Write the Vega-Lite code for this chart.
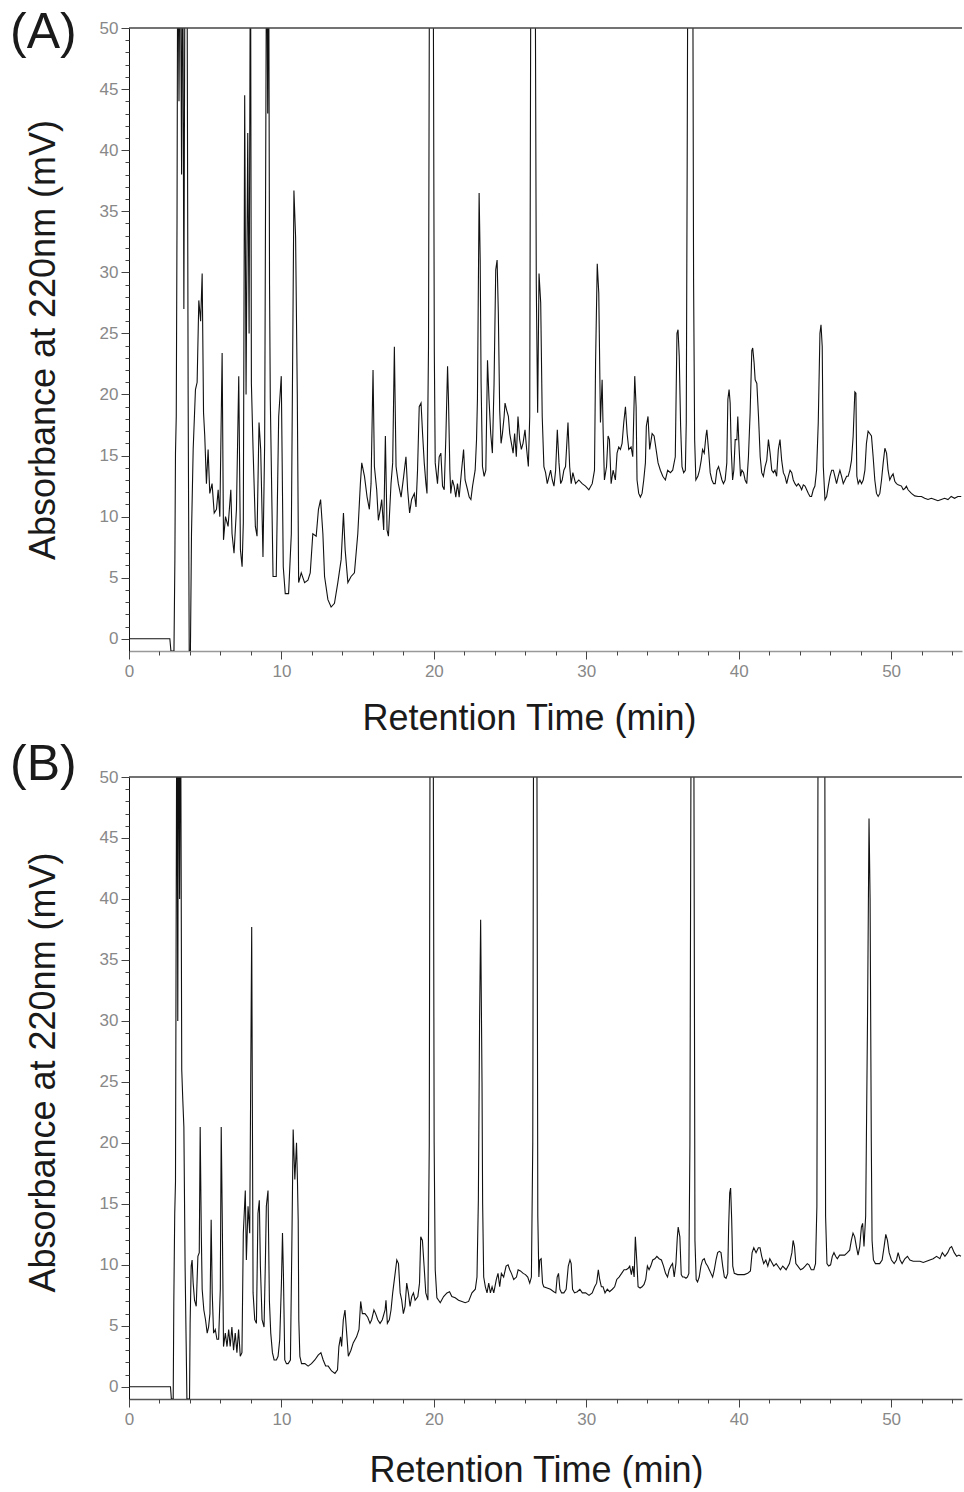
{
  "$schema": "https://vega.github.io/schema/vega-lite/v6.json",
  "padding": {"left": 10, "top": 8, "right": 2, "bottom": 0},
  "spacing": 4,
  "config": {
    "font": "Liberation Sans",
    "view": {"stroke": null},
    "axis": {"grid": false, "labelFont": "Liberation Sans", "titleFont": "Liberation Sans", "titleFontWeight": "normal", "titleColor": "#1a1a1a", "labelColor": "#888", "labelFontSize": 17, "titleFontSize": 36, "labelOverlap": false, "labelFlush": false, "tickColor": "#444"}
  },
  "datasets": {
    "A": [
      {"t":0,"v":0},{"t":2.68,"v":0},{"t":2.75,"v":-1},{"t":2.95,"v":-1},{"t":3.01,"v":6.5},{"t":3.05,"v":15.2},{"t":3.1,"v":18.2},{"t":3.15,"v":34},{"t":3.2,"v":60},{"t":3.28,"v":44},{"t":3.36,"v":60},{"t":3.45,"v":38},{"t":3.52,"v":60},{"t":3.6,"v":27},{"t":3.68,"v":60},{"t":3.8,"v":60},{"t":3.88,"v":20},{"t":3.95,"v":-1},{"t":4.03,"v":-1},{"t":4.1,"v":8.6},{"t":4.21,"v":15.5},{"t":4.36,"v":20.4},{"t":4.47,"v":21},{"t":4.58,"v":27.7},{"t":4.7,"v":26},{"t":4.8,"v":29.9},{"t":4.89,"v":18.5},{"t":4.97,"v":16.6},{"t":5.08,"v":12.7},{"t":5.19,"v":15.5},{"t":5.3,"v":11.9},{"t":5.45,"v":12.7},{"t":5.59,"v":10.3},{"t":5.74,"v":10.6},{"t":5.85,"v":12.2},{"t":5.96,"v":10},{"t":6.11,"v":23.4},{"t":6.2,"v":8.1},{"t":6.33,"v":10},{"t":6.5,"v":9.2},{"t":6.68,"v":12.2},{"t":6.76,"v":8.6},{"t":6.89,"v":7},{"t":7.05,"v":10.6},{"t":7.2,"v":21.5},{"t":7.31,"v":7.3},{"t":7.42,"v":5.9},{"t":7.5,"v":9.5},{"t":7.59,"v":44.5},{"t":7.68,"v":20},{"t":7.79,"v":41.4},{"t":7.88,"v":25},{"t":7.97,"v":60},{"t":8.03,"v":20.9},{"t":8.14,"v":15.5},{"t":8.29,"v":9.2},{"t":8.4,"v":8.4},{"t":8.53,"v":17.7},{"t":8.64,"v":15.5},{"t":8.79,"v":6.7},{"t":8.9,"v":16},{"t":9.03,"v":60},{"t":9.1,"v":43},{"t":9.16,"v":60},{"t":9.22,"v":29},{"t":9.27,"v":19.6},{"t":9.45,"v":5.1},{"t":9.66,"v":5.1},{"t":9.82,"v":18.2},{"t":9.99,"v":21.5},{"t":10.12,"v":5.9},{"t":10.25,"v":3.7},{"t":10.47,"v":3.7},{"t":10.65,"v":8.6},{"t":10.82,"v":36.7},{"t":10.93,"v":32.9},{"t":11.04,"v":20.1},{"t":11.13,"v":4.6},{"t":11.3,"v":5.4},{"t":11.52,"v":4.6},{"t":11.74,"v":4.8},{"t":11.89,"v":5.4},{"t":12.06,"v":8.6},{"t":12.28,"v":8.4},{"t":12.43,"v":10.6},{"t":12.57,"v":11.4},{"t":12.72,"v":8.6},{"t":12.83,"v":5.1},{"t":13.05,"v":3.2},{"t":13.26,"v":2.6},{"t":13.48,"v":2.9},{"t":13.7,"v":4.6},{"t":13.92,"v":6.5},{"t":14.07,"v":10.3},{"t":14.18,"v":7.3},{"t":14.36,"v":4.6},{"t":14.57,"v":5.1},{"t":14.79,"v":5.4},{"t":15.01,"v":8.6},{"t":15.18,"v":12.7},{"t":15.27,"v":14.4},{"t":15.45,"v":13.3},{"t":15.62,"v":11.6},{"t":15.77,"v":10.6},{"t":15.88,"v":12.7},{"t":16.01,"v":22},{"t":16.1,"v":14.1},{"t":16.25,"v":12.2},{"t":16.36,"v":9.7},{"t":16.49,"v":10.6},{"t":16.58,"v":11.4},{"t":16.71,"v":8.9},{"t":16.82,"v":16.6},{"t":16.93,"v":8.9},{"t":17.02,"v":8.4},{"t":17.19,"v":12.7},{"t":17.3,"v":14.4},{"t":17.41,"v":23.9},{"t":17.52,"v":14.1},{"t":17.67,"v":12.7},{"t":17.85,"v":11.6},{"t":18.02,"v":13.3},{"t":18.17,"v":14.9},{"t":18.28,"v":12.2},{"t":18.41,"v":10.3},{"t":18.54,"v":11.4},{"t":18.72,"v":11.9},{"t":18.83,"v":10.8},{"t":18.93,"v":13.8},{"t":19.04,"v":19},{"t":19.16,"v":19.3},{"t":19.26,"v":16.8},
      {"t":19.37,"v":14.4},{"t":19.48,"v":12.7},{"t":19.55,"v":11.9},{"t":19.65,"v":23.9},{"t":19.72,"v":60},{"t":19.95,"v":60},{"t":20.03,"v":23.6},{"t":20.09,"v":14.4},{"t":20.24,"v":12.7},{"t":20.35,"v":14.9},{"t":20.46,"v":15.2},{"t":20.57,"v":12.5},{"t":20.68,"v":12.2},{"t":20.79,"v":16.6},{"t":20.9,"v":22.3},{"t":20.96,"v":19.6},{"t":21.05,"v":13.8},{"t":21.11,"v":11.9},{"t":21.22,"v":13},{"t":21.33,"v":12.5},{"t":21.44,"v":11.6},{"t":21.55,"v":12.7},{"t":21.66,"v":11.6},{"t":21.82,"v":13.8},{"t":21.95,"v":15.5},{"t":22.05,"v":13},{"t":22.21,"v":12.2},{"t":22.32,"v":11.6},{"t":22.43,"v":11.4},{"t":22.54,"v":12.5},{"t":22.71,"v":13.8},{"t":22.8,"v":16.3},{"t":22.86,"v":19.6},{"t":22.97,"v":36.5},{"t":23.04,"v":31},{"t":23.1,"v":20.9},{"t":23.19,"v":14.1},{"t":23.3,"v":13.3},{"t":23.41,"v":13.8},{"t":23.52,"v":22.8},{"t":23.62,"v":19.6},{"t":23.73,"v":16.8},{"t":23.84,"v":15.2},{"t":23.95,"v":20.9},{"t":24.06,"v":30.2},{"t":24.15,"v":31},{"t":24.23,"v":26.7},{"t":24.32,"v":18.7},{"t":24.41,"v":16},{"t":24.5,"v":16.8},{"t":24.61,"v":18.2},{"t":24.67,"v":19.3},{"t":24.78,"v":18.7},{"t":24.89,"v":18.2},{"t":24.98,"v":16.8},{"t":25.09,"v":16},{"t":25.2,"v":15.2},{"t":25.3,"v":16.8},{"t":25.41,"v":14.9},{"t":25.52,"v":18.2},{"t":25.63,"v":16.3},{"t":25.74,"v":15.5},{"t":25.85,"v":16},{"t":25.98,"v":17.1},{"t":26.09,"v":15.5},{"t":26.2,"v":14.1},{"t":26.29,"v":18.2},{"t":26.37,"v":60},{"t":26.64,"v":60},{"t":26.72,"v":29.1},{"t":26.81,"v":18.5},{"t":26.9,"v":29.9},{"t":27.01,"v":27.5},{"t":27.11,"v":18.2},{"t":27.22,"v":14.1},{"t":27.33,"v":13.6},{"t":27.44,"v":12.7},{"t":27.66,"v":13.8},{"t":27.77,"v":13},{"t":27.88,"v":12.5},{"t":27.99,"v":13.8},{"t":28.1,"v":17.1},{"t":28.21,"v":14.4},{"t":28.32,"v":12.7},{"t":28.42,"v":13},{"t":28.53,"v":13.8},{"t":28.64,"v":14.1},{"t":28.8,"v":17.7},{"t":28.91,"v":14.1},{"t":29.01,"v":12.7},{"t":29.12,"v":13.6},{"t":29.3,"v":12.7},{"t":29.51,"v":13},{"t":29.73,"v":12.7},{"t":29.95,"v":12.5},{"t":30.17,"v":12.2},{"t":30.39,"v":12.7},{"t":30.54,"v":13.8},{"t":30.61,"v":22.6},{"t":30.72,"v":30.7},{"t":30.82,"v":28.3},{"t":30.93,"v":17.7},{"t":31.04,"v":21.2},{"t":31.11,"v":16.8},{"t":31.19,"v":13},{"t":31.33,"v":14.1},{"t":31.43,"v":16.6},{"t":31.52,"v":16.3},{"t":31.63,"v":12.7},{"t":31.76,"v":13.8},{"t":31.91,"v":13},{"t":32.02,"v":15.2},{"t":32.13,"v":15.7},{"t":32.24,"v":15.5},{"t":32.35,"v":16},{"t":32.46,"v":17.7},{"t":32.57,"v":19},{"t":32.68,"v":16.8},{"t":32.79,"v":15.5},{"t":32.94,"v":15.7},{"t":33.05,"v":14.9},{"t":33.18,"v":21.5},{"t":33.27,"v":19},{"t":33.33,"v":13},{"t":33.44,"v":11.9},{"t":33.55,"v":11.6},{"t":33.66,"v":11.9},{"t":33.77,"v":13},{"t":33.88,"v":14.4},{"t":33.94,"v":17.4},{"t":34.05,"v":18.2},{"t":34.16,"v":15.5},{"t":34.32,"v":16.8},{"t":34.45,"v":16.6},{"t":34.58,"v":15.5},{"t":34.71,"v":14.4},{"t":34.86,"v":13.8},{"t":35.02,"v":13.3},{"t":35.19,"v":13},{"t":35.34,"v":13.8},{"t":35.52,"v":13.6},{"t":35.67,"v":13.8},{"t":35.84,"v":14.9},{"t":35.95,"v":25},{"t":36.02,"v":25.3},{"t":36.1,"v":23.1},{"t":36.19,"v":17.4},{"t":36.28,"v":14.1},{"t":36.39,"v":13.6},{"t":36.5,"v":13.8},{"t":36.56,"v":17.7},{"t":36.62,"v":38.9},{"t":36.67,"v":60},{"t":36.98,"v":60},{"t":37.04,"v":29.4},{"t":37.11,"v":16.3},
      {"t":37.19,"v":13},{"t":37.32,"v":13.3},{"t":37.43,"v":13.8},{"t":37.54,"v":14.6},{"t":37.63,"v":15.5},{"t":37.74,"v":15.2},{"t":37.85,"v":16.6},{"t":37.91,"v":17.1},{"t":38.02,"v":15.5},{"t":38.13,"v":13.6},{"t":38.24,"v":13},{"t":38.35,"v":12.7},{"t":38.46,"v":12.7},{"t":38.57,"v":13.8},{"t":38.68,"v":14.1},{"t":38.78,"v":13.6},{"t":38.9,"v":13},{"t":39,"v":12.7},{"t":39.11,"v":13},{"t":39.22,"v":14.4},{"t":39.29,"v":19.6},{"t":39.37,"v":20.4},{"t":39.44,"v":19.3},{"t":39.51,"v":15.5},{"t":39.6,"v":13},{"t":39.68,"v":13.8},{"t":39.77,"v":16.3},{"t":39.88,"v":16.3},{"t":39.94,"v":18.2},{"t":40.03,"v":15.5},{"t":40.12,"v":13.3},{"t":40.21,"v":13.8},{"t":40.32,"v":13.6},{"t":40.42,"v":13},{"t":40.53,"v":12.7},{"t":40.64,"v":14.9},{"t":40.75,"v":18.5},{"t":40.86,"v":23.6},{"t":40.92,"v":23.8},{"t":41.01,"v":22.6},{"t":41.08,"v":21.2},{"t":41.19,"v":20.9},{"t":41.3,"v":18.2},{"t":41.41,"v":14.9},{"t":41.51,"v":13.6},{"t":41.62,"v":13.3},{"t":41.73,"v":14.1},{"t":41.84,"v":14.6},{"t":41.95,"v":16.3},{"t":42.06,"v":15.2},{"t":42.17,"v":13.8},{"t":42.28,"v":13.6},{"t":42.38,"v":13.8},{"t":42.49,"v":13.3},{"t":42.6,"v":15.5},{"t":42.71,"v":16.3},{"t":42.82,"v":14.6},{"t":42.93,"v":13.6},{"t":43.04,"v":13.3},{"t":43.15,"v":12.7},{"t":43.26,"v":13.3},{"t":43.37,"v":13.8},{"t":43.48,"v":13.6},{"t":43.58,"v":13},{"t":43.69,"v":12.7},{"t":43.8,"v":12.5},{"t":43.91,"v":12.7},{"t":44.02,"v":12.5},{"t":44.13,"v":12.2},{"t":44.24,"v":12.6},{"t":44.35,"v":12.5},{"t":44.46,"v":12.2},{"t":44.57,"v":11.9},{"t":44.68,"v":11.65},{"t":44.78,"v":11.65},{"t":44.89,"v":12.2},{"t":45,"v":12.5},{"t":45.11,"v":13.8},{"t":45.22,"v":17.7},{"t":45.33,"v":25},{"t":45.4,"v":25.7},{"t":45.48,"v":23.9},{"t":45.55,"v":14.1},{"t":45.66,"v":11.4},{"t":45.77,"v":11.65},{"t":45.88,"v":12.5},{"t":45.99,"v":13.3},{"t":46.1,"v":13.8},{"t":46.21,"v":13.8},{"t":46.31,"v":13.3},{"t":46.42,"v":12.7},{"t":46.53,"v":13.3},{"t":46.64,"v":13.8},{"t":46.75,"v":13.3},{"t":46.86,"v":12.7},{"t":46.97,"v":13},{"t":47.08,"v":13.3},{"t":47.18,"v":13.3},{"t":47.29,"v":13.8},{"t":47.4,"v":14.6},{"t":47.51,"v":16.6},{"t":47.62,"v":20.2},{"t":47.69,"v":20.1},{"t":47.75,"v":13.3},{"t":47.84,"v":12.7},{"t":47.95,"v":13},{"t":48.06,"v":12.7},{"t":48.17,"v":13},{"t":48.28,"v":13.8},{"t":48.38,"v":16},{"t":48.49,"v":17},{"t":48.6,"v":16.8},{"t":48.71,"v":16.6},{"t":48.82,"v":14.9},{"t":48.93,"v":13},{"t":49.04,"v":11.9},{"t":49.15,"v":11.65},{"t":49.26,"v":11.9},{"t":49.37,"v":13},{"t":49.48,"v":14.4},{"t":49.59,"v":15.6},{"t":49.7,"v":15.2},{"t":49.8,"v":13.8},{"t":49.91,"v":13},{"t":50.02,"v":13.3},{"t":50.13,"v":13.5},{"t":50.24,"v":12.9},{"t":50.35,"v":12.7},{"t":50.46,"v":12.6},{"t":50.68,"v":12.5},{"t":50.79,"v":12.2},{"t":50.9,"v":12.3},{"t":51,"v":12.5},{"t":51.11,"v":12.2},{"t":51.33,"v":11.9},{"t":51.55,"v":11.7},{"t":51.77,"v":11.65},{"t":51.99,"v":11.65},{"t":52.2,"v":11.5},{"t":52.42,"v":11.4},{"t":52.64,"v":11.5},{"t":52.86,"v":11.4},{"t":53.07,"v":11.3},{"t":53.29,"v":11.4},{"t":53.51,"v":11.5},{"t":53.73,"v":11.4},{"t":53.94,"v":11.65},{"t":54.16,"v":11.5},{"t":54.38,"v":11.65},{"t":54.6,"v":11.65}
    ],
    "B": [
      {"t":0,"v":0},{"t":2.72,"v":0},{"t":2.78,"v":-1},{"t":2.9,"v":-1},{"t":2.94,"v":6.9},{"t":3,"v":14.2},{"t":3.05,"v":16.8},{"t":3.14,"v":60},{"t":3.2,"v":30},{"t":3.25,"v":60},{"t":3.32,"v":40},{"t":3.38,"v":60},{"t":3.46,"v":26},{"t":3.53,"v":23.5},{"t":3.6,"v":21.3},{"t":3.68,"v":9.9},{"t":3.75,"v":3.6},{"t":3.8,"v":-1},{"t":3.97,"v":-1},{"t":4.01,"v":5.2},{"t":4.08,"v":9.9},{"t":4.14,"v":10.4},{"t":4.21,"v":8.5},{"t":4.3,"v":7.1},{"t":4.41,"v":6.6},{"t":4.52,"v":10.7},{"t":4.61,"v":11},{"t":4.67,"v":21.3},{"t":4.74,"v":12.9},{"t":4.8,"v":8},{"t":4.91,"v":6.3},{"t":5.02,"v":5.5},{"t":5.13,"v":4.4},{"t":5.22,"v":4.9},{"t":5.31,"v":6},{"t":5.39,"v":13.7},{"t":5.46,"v":7.7},{"t":5.55,"v":4.4},{"t":5.66,"v":4.7},{"t":5.77,"v":3.9},{"t":5.88,"v":3.9},{"t":5.99,"v":8},{"t":6.05,"v":21.3},{"t":6.12,"v":13.7},{"t":6.2,"v":3.3},{"t":6.32,"v":4.4},{"t":6.43,"v":3.3},{"t":6.54,"v":4.7},{"t":6.64,"v":3.3},{"t":6.75,"v":4.9},{"t":6.86,"v":3},{"t":6.97,"v":4.4},{"t":7.08,"v":2.8},{"t":7.19,"v":4.7},{"t":7.3,"v":2.5},{"t":7.41,"v":2.8},{"t":7.5,"v":12.6},{"t":7.63,"v":16.1},{"t":7.7,"v":10.4},{"t":7.81,"v":14.8},{"t":7.92,"v":12.6},{"t":8.05,"v":37.7},{"t":8.14,"v":7.7},{"t":8.25,"v":5.5},{"t":8.36,"v":5.2},{"t":8.46,"v":14.2},{"t":8.55,"v":15.3},{"t":8.62,"v":9.9},{"t":8.73,"v":5.5},{"t":8.86,"v":4.9},{"t":8.95,"v":10.4},{"t":9.01,"v":14.8},{"t":9.12,"v":16.1},{"t":9.21,"v":7.1},{"t":9.3,"v":4.4},{"t":9.41,"v":2.8},{"t":9.52,"v":2.2},{"t":9.67,"v":2.2},{"t":9.78,"v":2.5},{"t":9.89,"v":3.9},{"t":10,"v":8.5},{"t":10.07,"v":12.6},{"t":10.13,"v":9.3},{"t":10.22,"v":2.2},{"t":10.33,"v":1.9},{"t":10.44,"v":1.9},{"t":10.59,"v":2.2},{"t":10.68,"v":11.2},{"t":10.77,"v":21.1},{"t":10.88,"v":17},{"t":10.99,"v":20},{"t":11.05,"v":17},{"t":11.1,"v":13.7},{"t":11.14,"v":5.5},{"t":11.21,"v":2.5},{"t":11.32,"v":1.9},{"t":11.54,"v":1.9},{"t":11.75,"v":1.7},{"t":11.97,"v":1.9},{"t":12.19,"v":2.2},{"t":12.41,"v":2.6},{"t":12.59,"v":2.8},{"t":12.74,"v":2.2},{"t":12.9,"v":1.7},{"t":13.07,"v":1.7},{"t":13.29,"v":1.3},{"t":13.51,"v":1.1},{"t":13.68,"v":1.4},{"t":13.77,"v":3.3},{"t":13.88,"v":4.1},{"t":13.95,"v":3.3},{"t":14.06,"v":5.5},{"t":14.17,"v":6.3},{"t":14.28,"v":4.4},{"t":14.39,"v":2.5},{"t":14.56,"v":3},{"t":14.71,"v":3.6},{"t":14.93,"v":4.1},{"t":15.09,"v":4.7},{"t":15.2,"v":7},{"t":15.31,"v":6},{"t":15.48,"v":6},{"t":15.66,"v":5.7},{"t":15.81,"v":5.2},{"t":15.92,"v":5.5},{"t":16.07,"v":6.3},{"t":16.18,"v":6},{"t":16.32,"v":5.5},{"t":16.47,"v":5.2},{"t":16.62,"v":5.5},{"t":16.8,"v":6.3},{"t":16.86,"v":7.1},{"t":16.95,"v":5.2},{"t":17.08,"v":5.5},{"t":17.19,"v":6.3},{"t":17.3,"v":7.7},{"t":17.46,"v":9.3},{"t":17.57,"v":10.4},{"t":17.68,"v":10.1},{"t":17.79,"v":7.7},{"t":17.89,"v":7.1},{"t":18,"v":6},{"t":18.11,"v":6.6},{"t":18.22,"v":8.5},{"t":18.33,"v":7.7},{"t":18.44,"v":6.6},{"t":18.55,"v":7.4},{"t":18.66,"v":7.7},{"t":18.77,"v":7.1},{"t":18.95,"v":7.4},{"t":19.06,"v":8.5},{"t":19.14,"v":12.3},{"t":19.25,"v":12},{"t":19.36,"v":9.9},{"t":19.47,"v":7.7},{"t":19.61,"v":7.1},{"t":19.7,"v":20},{"t":19.76,"v":60},{"t":19.95,"v":60},{"t":20.02,"v":20},{"t":20.09,"v":9.6},
      {"t":20.2,"v":7.3},{"t":20.31,"v":7.1},{"t":20.42,"v":6.9},{"t":20.64,"v":7.4},{"t":20.86,"v":7.7},{"t":21.03,"v":7.8},{"t":21.18,"v":7.4},{"t":21.4,"v":7.3},{"t":21.62,"v":7.1},{"t":21.84,"v":7},{"t":22.06,"v":6.9},{"t":22.28,"v":7},{"t":22.5,"v":7.7},{"t":22.72,"v":8},{"t":22.83,"v":9},{"t":22.92,"v":15.3},{"t":23,"v":30},{"t":23.07,"v":38.3},{"t":23.16,"v":25},{"t":23.2,"v":15.1},{"t":23.27,"v":9},{"t":23.38,"v":8.2},{"t":23.49,"v":7.7},{"t":23.6,"v":8.5},{"t":23.71,"v":7.7},{"t":23.82,"v":8.2},{"t":23.93,"v":7.7},{"t":24.1,"v":8.8},{"t":24.21,"v":9.3},{"t":24.32,"v":8.2},{"t":24.43,"v":9.3},{"t":24.58,"v":9},{"t":24.74,"v":9.9},{"t":24.87,"v":10},{"t":24.98,"v":9.6},{"t":25.09,"v":9.3},{"t":25.24,"v":8.8},{"t":25.42,"v":9},{"t":25.53,"v":9.6},{"t":25.68,"v":9.5},{"t":25.86,"v":9.3},{"t":26.01,"v":9.2},{"t":26.16,"v":9},{"t":26.29,"v":8.5},{"t":26.4,"v":9},{"t":26.49,"v":20},{"t":26.55,"v":60},{"t":26.75,"v":60},{"t":26.82,"v":14},{"t":26.89,"v":9},{"t":26.95,"v":10.4},{"t":27.04,"v":10.5},{"t":27.13,"v":8.5},{"t":27.21,"v":8.2},{"t":27.43,"v":8.1},{"t":27.65,"v":8},{"t":27.87,"v":7.8},{"t":28,"v":7.7},{"t":28.09,"v":9},{"t":28.18,"v":9.3},{"t":28.27,"v":8},{"t":28.38,"v":7.7},{"t":28.53,"v":7.7},{"t":28.68,"v":8},{"t":28.82,"v":9.9},{"t":28.93,"v":10.4},{"t":29.01,"v":10.1},{"t":29.1,"v":8},{"t":29.23,"v":7.7},{"t":29.41,"v":7.8},{"t":29.58,"v":8},{"t":29.74,"v":7.7},{"t":29.96,"v":7.7},{"t":30.18,"v":7.5},{"t":30.39,"v":7.7},{"t":30.55,"v":8.2},{"t":30.68,"v":8.5},{"t":30.79,"v":9.6},{"t":30.88,"v":8.8},{"t":30.99,"v":8.2},{"t":31.1,"v":8.2},{"t":31.23,"v":7.7},{"t":31.38,"v":8},{"t":31.53,"v":7.8},{"t":31.71,"v":8},{"t":31.86,"v":8.2},{"t":32,"v":8.8},{"t":32.15,"v":9},{"t":32.32,"v":9.3},{"t":32.48,"v":9.6},{"t":32.61,"v":9.6},{"t":32.74,"v":9.7},{"t":32.85,"v":9.9},{"t":32.96,"v":9.2},{"t":33.05,"v":9.9},{"t":33.14,"v":9},{"t":33.22,"v":12.3},{"t":33.31,"v":10.4},{"t":33.4,"v":8.2},{"t":33.53,"v":8.1},{"t":33.66,"v":8.2},{"t":33.79,"v":8.4},{"t":33.9,"v":8.8},{"t":34.01,"v":9.9},{"t":34.12,"v":9.6},{"t":34.23,"v":9.9},{"t":34.36,"v":10.4},{"t":34.5,"v":10.5},{"t":34.63,"v":10.7},{"t":34.78,"v":10.5},{"t":34.93,"v":10.4},{"t":35.07,"v":9.9},{"t":35.2,"v":9.3},{"t":35.33,"v":9},{"t":35.44,"v":9.6},{"t":35.55,"v":9.9},{"t":35.66,"v":10.1},{"t":35.77,"v":9},{"t":35.88,"v":10.1},{"t":35.97,"v":12.2},{"t":36.03,"v":13.1},{"t":36.14,"v":12.3},{"t":36.23,"v":9.2},{"t":36.32,"v":9},{"t":36.43,"v":9},{"t":36.54,"v":8.9},{"t":36.64,"v":9},{"t":36.73,"v":9.3},{"t":36.8,"v":20},{"t":36.87,"v":52},{"t":37.06,"v":52},{"t":37.13,"v":12},{"t":37.21,"v":8.8},{"t":37.3,"v":8.6},{"t":37.41,"v":9},{"t":37.52,"v":9.9},{"t":37.63,"v":10.4},{"t":37.74,"v":10.5},{"t":37.85,"v":10.1},{"t":37.96,"v":9.9},{"t":38.07,"v":9.6},{"t":38.18,"v":9.3},{"t":38.29,"v":9},{"t":38.4,"v":9.6},{"t":38.51,"v":10.4},{"t":38.62,"v":11},{"t":38.73,"v":11.1},{"t":38.84,"v":11},{"t":38.95,"v":9.9},{"t":39.06,"v":9},{"t":39.17,"v":8.9},{"t":39.28,"v":9.3},{"t":39.34,"v":13.1},{"t":39.41,"v":15.9},{"t":39.47,"v":16.3},{"t":39.54,"v":13.7},{"t":39.61,"v":9.9},{"t":39.71,"v":9.3},{"t":39.93,"v":9.2},{"t":40.15,"v":9.2},{"t":40.37,"v":9.2},{"t":40.59,"v":9.3},{"t":40.77,"v":9.5},{"t":40.88,"v":11},{"t":40.99,"v":11.4},{"t":41.14,"v":11},{"t":41.29,"v":11.4},{"t":41.4,"v":11.4},{"t":41.51,"v":10.7},{"t":41.64,"v":10.1},{"t":41.78,"v":10.4},{"t":41.91,"v":9.9},{"t":42.04,"v":10.5},{"t":42.13,"v":10.3},{"t":42.3,"v":9.9},{"t":42.46,"v":10.1},{"t":42.57,"v":9.9},{"t":42.74,"v":9.6},{"t":42.89,"v":9.9},{"t":43.11,"v":9.6},{"t":43.33,"v":10.1},{"t":43.49,"v":11},{"t":43.57,"v":12},{"t":43.66,"v":11.5},{"t":43.75,"v":10.1},{"t":43.88,"v":9.9},{"t":44.06,"v":9.6},{"t":44.21,"v":9.7},{"t":44.36,"v":9.9},{"t":44.5,"v":10.1},{"t":44.61,"v":10},{"t":44.76,"v":9.6},{"t":44.93,"v":9.6},{"t":45.04,"v":10.1},{"t":45.13,"v":14.8},{"t":45.22,"v":60},{"t":45.64,"v":60},{"t":45.7,"v":14},{"t":45.79,"v":10.1},{"t":45.9,"v":9.9},{"t":46.03,"v":10},{"t":46.14,"v":10.7},{"t":46.25,"v":11},{"t":46.36,"v":10.7},{"t":46.47,"v":10.5},{"t":46.62,"v":10.8},{"t":46.78,"v":10.8},{"t":46.95,"v":10.8},{"t":47.13,"v":11},{"t":47.28,"v":11.2},{"t":47.39,"v":12},{"t":47.5,"v":12.6},{"t":47.61,"v":12.3},{"t":47.72,"v":11.5},{"t":47.83,"v":10.8},{"t":47.94,"v":11.5},{"t":48.05,"v":13.1},{"t":48.13,"v":13.4},{"t":48.22,"v":11.5},{"t":48.33,"v":14},{"t":48.45,"v":30},{"t":48.55,"v":46.6},{"t":48.62,"v":40},{"t":48.7,"v":20},{"t":48.75,"v":12},{"t":48.84,"v":10.4},{"t":48.97,"v":10.1},{"t":49.1,"v":10.1},{"t":49.25,"v":10.1},{"t":49.41,"v":10.4},{"t":49.54,"v":11.5},{"t":49.65,"v":12.5},{"t":49.76,"v":12},{"t":49.87,"v":11},{"t":50.02,"v":10.4},{"t":50.2,"v":10.1},{"t":50.35,"v":10.4},{"t":50.46,"v":11},{"t":50.59,"v":10.4},{"t":50.72,"v":10.1},{"t":50.9,"v":10.5},{"t":51.07,"v":10.7},{"t":51.23,"v":10.4},{"t":51.45,"v":10.3},{"t":51.67,"v":10.3},{"t":51.89,"v":10.3},{"t":52.11,"v":10.2},{"t":52.32,"v":10.3},{"t":52.54,"v":10.4},{"t":52.76,"v":10.5},{"t":52.98,"v":10.7},{"t":53.2,"v":10.5},{"t":53.36,"v":11},{"t":53.53,"v":10.7},{"t":53.71,"v":11},{"t":53.86,"v":11.4},{"t":53.97,"v":11.5},{"t":54.14,"v":11},{"t":54.3,"v":10.7},{"t":54.45,"v":10.8},{"t":54.58,"v":10.7}
    ]
  },
  "vconcat": [
    {
      "width": 833,
      "height": 623,
      "title": {"text": "(A)", "anchor": "start", "frame": "bounds", "fontSize": 50, "fontWeight": "normal", "font": "Liberation Sans", "color": "#1a1a1a", "dx": -15, "dy": 39, "offset": 0},
      "resolve": {"axis": {"x": "independent", "y": "independent"}},
      "layer": [
        {
          "data": {"name": "A"},
          "mark": {"type": "line", "clip": true, "color": "#111", "strokeWidth": 1.1},
          "encoding": {
            "x": {"field": "t", "type": "quantitative", "title": "Retention Time (min)", "scale": {"domain": [0, 54.65], "nice": false, "zero": false},
              "axis": {"orient": "bottom", "values": [0,10,20,30,40,50], "domainColor": "#999", "domainWidth": 1.5, "tickSize": 8, "labelPadding": 4, "titlePadding": 22, "titleX": 400}},
            "y": {"field": "v", "type": "quantitative", "title": "Absorbance at 220nm (mV)", "scale": {"domain": [-1, 50], "nice": false, "zero": false},
              "axis": {"orient": "left", "values": [0,5,10,15,20,25,30,35,40,45,50], "domainColor": "#111", "tickSize": 8, "labelPadding": 3, "titlePadding": 37}}
          }
        },
        {
          "data": {"values": [{}]},
          "mark": {"type": "rule", "color": "#444", "strokeWidth": 1.3},
          "encoding": {
            "x": {"datum": 0, "type": "quantitative", "scale": {"domain": [0, 54.65], "nice": false, "zero": false},
              "axis": {"orient": "bottom", "values": [0,2,4,6,8,10,12,14,16,18,20,22,24,26,28,30,32,34,36,38,40,42,44,46,48,50,52,54], "labels": false, "domain": false, "tickSize": 4, "title": null}},
            "x2": {"datum": 54.65},
            "y": {"datum": 50, "type": "quantitative", "scale": {"domain": [-1, 50], "nice": false, "zero": false},
              "axis": {"orient": "left", "values": [0,1,2,3,4,5,6,7,8,9,10,11,12,13,14,15,16,17,18,19,20,21,22,23,24,25,26,27,28,29,30,31,32,33,34,35,36,37,38,39,40,41,42,43,44,45,46,47,48,49,50], "labels": false, "domain": false, "tickSize": 4, "title": null}}
          }
        }
      ]
    },
    {
      "width": 833,
      "height": 622,
      "title": {"text": "(B)", "anchor": "start", "frame": "bounds", "fontSize": 50, "fontWeight": "normal", "font": "Liberation Sans", "color": "#1a1a1a", "dx": -15, "dy": 22, "offset": 0},
      "resolve": {"axis": {"x": "independent", "y": "independent"}},
      "layer": [
        {
          "data": {"name": "B"},
          "mark": {"type": "line", "clip": true, "color": "#111", "strokeWidth": 1.1},
          "encoding": {
            "x": {"field": "t", "type": "quantitative", "title": "Retention Time (min)", "scale": {"domain": [0, 54.65], "nice": false, "zero": false},
              "axis": {"orient": "bottom", "values": [0,10,20,30,40,50], "domainColor": "#555", "domainWidth": 1.5, "tickSize": 8, "labelPadding": 4, "titlePadding": 26, "titleX": 407}},
            "y": {"field": "v", "type": "quantitative", "title": "Absorbance at 220nm (mV)", "scale": {"domain": [-1, 50], "nice": false, "zero": false},
              "axis": {"orient": "left", "values": [0,5,10,15,20,25,30,35,40,45,50], "domainColor": "#111", "tickSize": 8, "labelPadding": 3, "titlePadding": 37, "titleY": 295}}
          }
        },
        {
          "data": {"values": [{}]},
          "mark": {"type": "rule", "color": "#444", "strokeWidth": 1.3},
          "encoding": {
            "x": {"datum": 0, "type": "quantitative", "scale": {"domain": [0, 54.65], "nice": false, "zero": false},
              "axis": {"orient": "bottom", "values": [0,2,4,6,8,10,12,14,16,18,20,22,24,26,28,30,32,34,36,38,40,42,44,46,48,50,52,54], "labels": false, "domain": false, "tickSize": 4, "title": null}},
            "x2": {"datum": 54.65},
            "y": {"datum": 50, "type": "quantitative", "scale": {"domain": [-1, 50], "nice": false, "zero": false},
              "axis": {"orient": "left", "values": [0,1,2,3,4,5,6,7,8,9,10,11,12,13,14,15,16,17,18,19,20,21,22,23,24,25,26,27,28,29,30,31,32,33,34,35,36,37,38,39,40,41,42,43,44,45,46,47,48,49,50], "labels": false, "domain": false, "tickSize": 4, "title": null}}
          }
        }
      ]
    }
  ]
}
